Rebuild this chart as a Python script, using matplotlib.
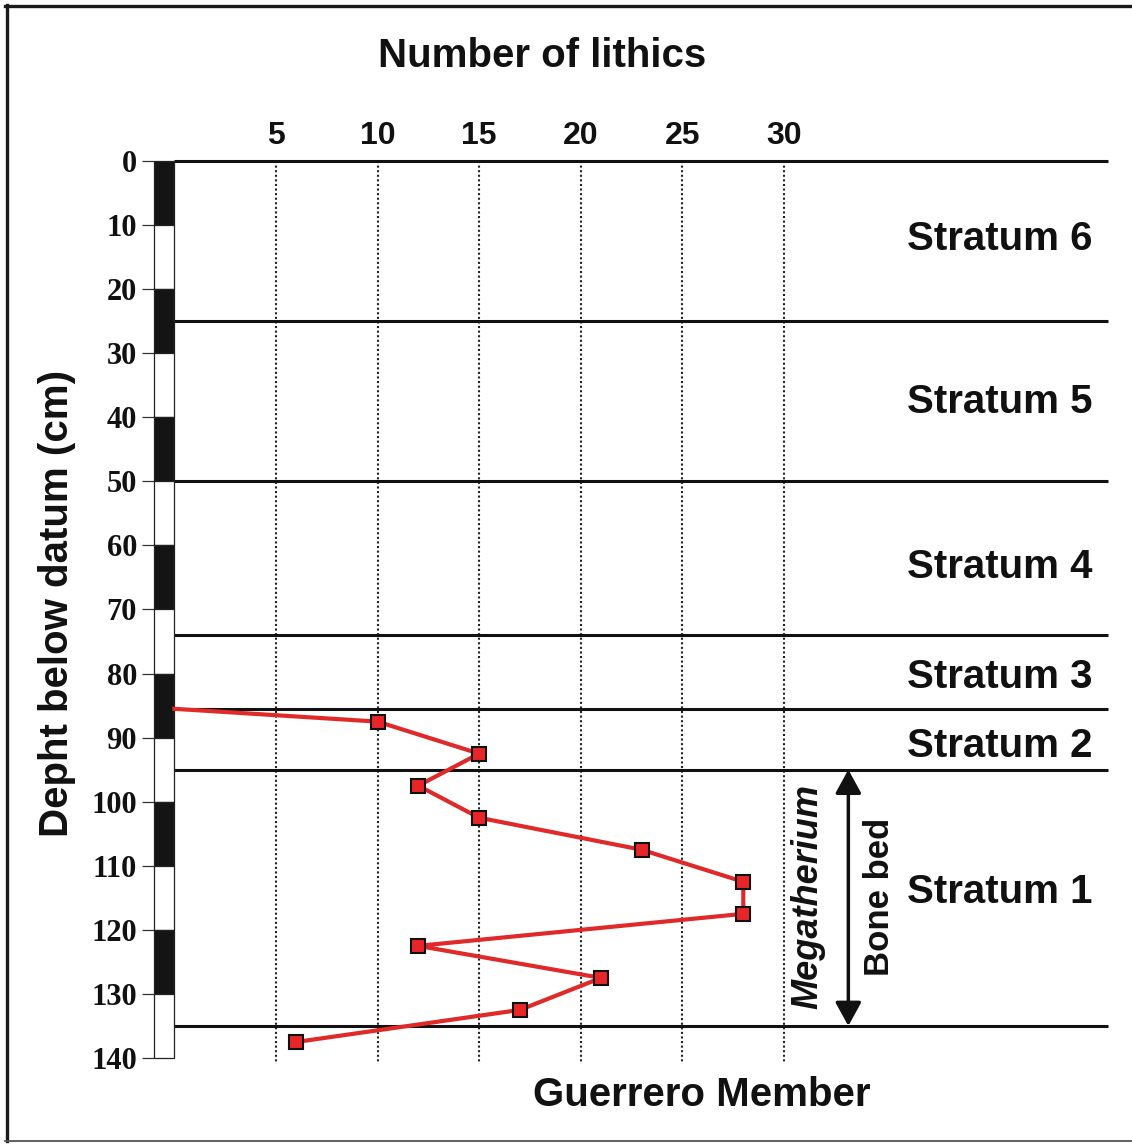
import matplotlib
matplotlib.use("Agg")
import matplotlib.pyplot as plt
from matplotlib.patches import Rectangle
from matplotlib.lines import Line2D

# ---------------- data ----------------
depth_cm = [85.5, 87.5, 92.5, 97.5, 102.5, 107.5, 112.5, 117.5, 122.5, 127.5, 132.5, 137.5]
lithics = [0, 10, 15, 12, 15, 23, 28, 28, 12, 21, 17, 6]
strata_boundaries = [0, 25, 50, 74, 85.5, 95, 135]
strata_labels = ["Stratum 6", "Stratum 5", "Stratum 4", "Stratum 3", "Stratum 2", "Stratum 1"]
x_ticks = [5, 10, 15, 20, 25, 30]
y_ticks = list(range(0, 141, 10))
bone_bed_range = [95, 135]

W, H = 1132, 1145
fig = plt.figure(figsize=(W / 100, H / 100), dpi=100)
fig.patch.set_facecolor("white")

SANS = "Liberation Sans"
SERIF = "Liberation Serif"

def fx(px):
    return px / W

def fy(py):
    return 1 - py / H

x_right = 45.95
ax_left, ax_right, ax_top, ax_bot = 174.4, 1108, 161, 1064.4
ax = fig.add_axes([fx(ax_left), fy(ax_bot), fx(ax_right) - fx(ax_left), (ax_bot - ax_top) / H])
ax.set_xlim(0, x_right)
ax.set_ylim(141, 0)
for s in ax.spines.values():
    s.set_visible(False)

bar_w = 0.98
ax.spines["left"].set_position(("data", -bar_w))

# scale bar
for i in range(14):
    ax.add_patch(Rectangle((-bar_w, 10 * i), bar_w, 10,
                           facecolor="#141414" if i % 2 == 0 else "white",
                           edgecolor="#222222", lw=0.9, clip_on=False, zorder=3))

# y ticks
ax.set_yticks(y_ticks)
ax.set_yticklabels([str(v) for v in y_ticks], fontfamily=SERIF, fontweight="bold", fontsize=22)
ax.tick_params(axis="y", length=8.6, width=0.9, color="#333333", pad=4, labelcolor="#111111")

# x ticks on top
ax.xaxis.tick_top()
ax.set_xticks(x_ticks)
ax.set_xticklabels([str(v) for v in x_ticks], fontfamily=SANS, fontweight="bold", fontsize=23)
ax.tick_params(axis="x", length=0, pad=7, labelcolor="#111111")

# dotted verticals
ax.vlines(x_ticks, 0, 141, colors="#222222", linestyles=(0, (1, 1.2)), lw=1.5, zorder=1)

# strata boundaries
ax.hlines(strata_boundaries, 0, x_right, colors="#111111", lw=2.2, clip_on=False, zorder=2)

# lithics curve
ax.plot(lithics, depth_cm, color="#e02a2a", lw=3.0, marker="s", ms=10,
        mfc="#e8262a", mec="#111111", mew=1.5, markevery=list(range(1, len(lithics))),
        solid_joinstyle="miter", clip_on=False, zorder=5)

# stratum labels (baselines)
label_baselines = [13.9, 39.3, 65.1, 82.3, 93.0, 115.8]
for lab, yb in zip(strata_labels, label_baselines):
    ax.text(45.2, yb, lab, ha="right", va="baseline", fontfamily=SANS,
            fontweight="bold", fontsize=29, color="#111111")

# bone bed arrow
ax.annotate("", xy=(33.17, bone_bed_range[0]), xytext=(33.17, bone_bed_range[1]),
            arrowprops=dict(arrowstyle="<|-|>,head_length=0.4,head_width=0.22",
                            color="#111111", lw=2.5, mutation_scale=36,
                            shrinkA=0, shrinkB=0), zorder=4)
ax.text(31.18, 114.8, "Megatherium", rotation=90, ha="center", va="center",
        fontfamily=SANS, fontweight="bold", fontstyle="italic", fontsize=26, color="#111111")
ax.text(34.72, 114.8, "Bone bed", rotation=90, ha="center", va="center",
        fontfamily=SANS, fontweight="bold", fontsize=25, color="#111111")

# titles
fig.text(fx(542.5), fy(56), "Number of lithics", ha="center", va="center",
         fontfamily=SANS, fontweight="bold", fontsize=29, color="#111111")
fig.text(fx(702), fy(1095), "Guerrero Member", ha="center", va="center",
         fontfamily=SANS, fontweight="bold", fontsize=29, color="#111111")
fig.text(fx(57), fy(603), "Depht below datum (cm)", rotation=90, ha="center", va="center",
         fontfamily=SANS, fontweight="bold", fontsize=29, color="#111111")

# border (left, top, bottom)
fig.add_artist(Line2D([fx(5), fx(1132)], [fy(6), fy(6)], color="#1a1a1a", lw=2.4))
fig.add_artist(Line2D([fx(6.5), fx(6.5)], [fy(5), fy(1141)], color="#1a1a1a", lw=2.4))
fig.add_artist(Line2D([fx(5), fx(1132)], [fy(1140.5), fy(1140.5)], color="#555555", lw=1.3))

fig.savefig("out.png", dpi=100, facecolor="white")
